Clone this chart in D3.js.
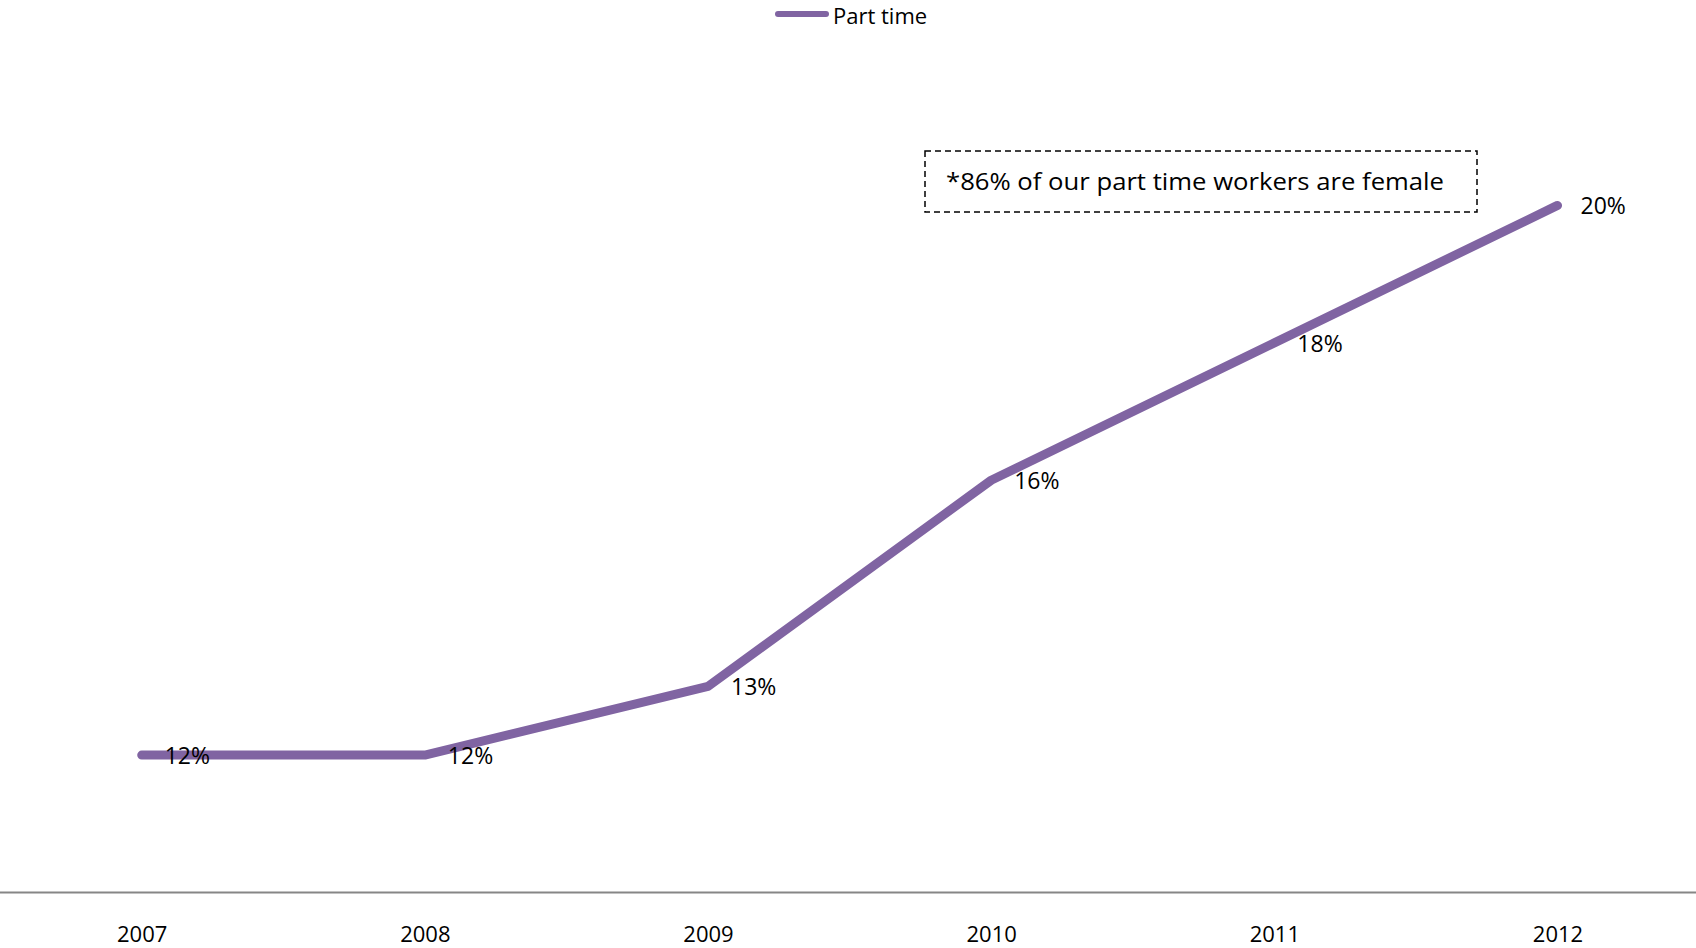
<!DOCTYPE html>
<html>
<head>
<meta charset="utf-8">
<script src="https://cdn.jsdelivr.net/npm/d3@7"></script>
<style>
  html, body { margin: 0; padding: 0; background: #fff; }
  svg { display: block; font-family: "Open Sans", "Liberation Sans", sans-serif; }
</style>
</head>
<body>
<svg id="chart" width="1696" height="948"></svg>
<script>
// Share of part-time workers by year
const years = ["2007", "2008", "2009", "2010", "2011", "2012"];
const partTime = [12, 12, 13, 16, 18, 20];
const seriesName = "Part time";
const note = "*86% of our part time workers are female";

const W = 1696, H = 948;
const svg = d3.select("#chart");
const lineColor = "#8064A2";

const x = d3.scalePoint().domain(years).range([141.7, 1557.5]);
const y = d3.scaleLinear().domain([10, 22]).range([892.5, 68]);

// Category axis along the bottom
const xAxis = d3.axisBottom(x).tickSize(0).tickPadding(34);
const gx = svg.append("g").attr("transform", `translate(0,${y(10)})`).call(xAxis);
gx.select(".domain").remove();
gx.selectAll("text")
  .attr("font-size", 22)
  .attr("fill", "#000")
  .attr("font-family", "'Open Sans', sans-serif");
svg.append("line")
  .attr("x1", 0).attr("x2", W)
  .attr("y1", y(10)).attr("y2", y(10))
  .attr("stroke", "#868686").attr("stroke-width", 2);

// Series line
const line = d3.line()
  .x((d, i) => x(years[i]))
  .y(d => y(d));
svg.append("path")
  .datum(partTime)
  .attr("d", line)
  .attr("fill", "none")
  .attr("stroke", lineColor)
  .attr("stroke-width", 9)
  .attr("stroke-linecap", "round")
  .attr("stroke-linejoin", "round");

// Value labels
svg.append("g").selectAll("text")
  .data(partTime)
  .join("text")
  .attr("x", (d, i) => x(years[i]) + 23)
  .attr("y", d => y(d))
  .attr("dy", "0.38em")
  .attr("font-size", 23)
  .attr("fill", "#000")
  .text(d => d + "%");

// Legend
const lg = svg.append("g");
lg.append("line")
  .attr("x1", 778).attr("x2", 826)
  .attr("y1", 14).attr("y2", 14)
  .attr("stroke", lineColor).attr("stroke-width", 6)
  .attr("stroke-linecap", "round");
lg.append("text")
  .attr("x", 833).attr("y", 16).attr("dy", "0.38em")
  .attr("font-size", 22).attr("fill", "#000")
  .text(seriesName);

// Annotation box
const ann = svg.append("g");
ann.append("rect")
  .attr("x", 925).attr("y", 151)
  .attr("width", 552).attr("height", 61)
  .attr("fill", "none")
  .attr("stroke", "#000").attr("stroke-width", 1.5)
  .attr("stroke-dasharray", "6,4");
ann.append("text")
  .attr("x", 946).attr("y", 181).attr("dy", "0.36em")
  .attr("font-size", 24).attr("fill", "#000")
  .attr("textLength", 498).attr("lengthAdjust", "spacingAndGlyphs")
  .text(note);
</script>
</body>
</html>
